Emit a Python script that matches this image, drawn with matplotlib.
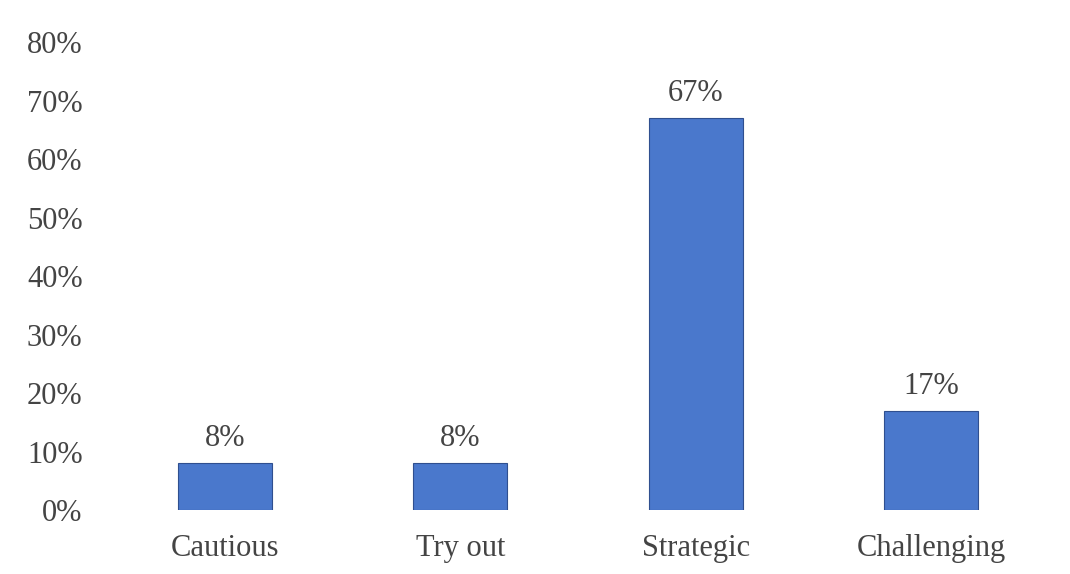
import matplotlib
matplotlib.use("Agg")
import matplotlib.pyplot as plt
from matplotlib.ticker import FuncFormatter

# survey result shares (percent)
categories = ["Cautious", "Try out", "Strategic", "Challenging"]
shares = [8, 8, 67, 17]
yticks = [0, 10, 20, 30, 40, 50, 60, 70, 80]

plt.rcParams['font.family'] = ['Liberation Serif', 'DejaVu Serif']

fig = plt.figure(figsize=(10.7, 5.74), dpi=100)
ax = fig.add_axes([0.1005, 0.1115, 0.8795, 0.8153])

x = range(len(categories))
bars = ax.bar(x, shares, width=0.4, color="#4a78cc", edgecolor="#2f4f8f", linewidth=0.8)

# value labels over the bars
for b, v in zip(bars, shares):
    ax.annotate(f"{v}%", (b.get_x() + b.get_width() / 2, v),
                xytext=(0, 7), textcoords="offset points",
                ha="center", va="bottom", fontsize=22, color="#444444")

ax.set_xlim(-0.5, len(categories) - 0.5)
ax.set_ylim(0, 80)
ax.set_yticks(yticks)
ax.yaxis.set_major_formatter(FuncFormatter(lambda v, p: f"{v:.0f}%"))
ax.set_xticks(list(x))
ax.set_xticklabels(categories)

ax.tick_params(axis="y", length=0, pad=18, labelsize=22, labelcolor="#444444")
ax.tick_params(axis="x", length=0, pad=17, labelsize=22, labelcolor="#444444")
for s in ax.spines.values():
    s.set_visible(False)

fig.savefig("out.png", dpi=100)
